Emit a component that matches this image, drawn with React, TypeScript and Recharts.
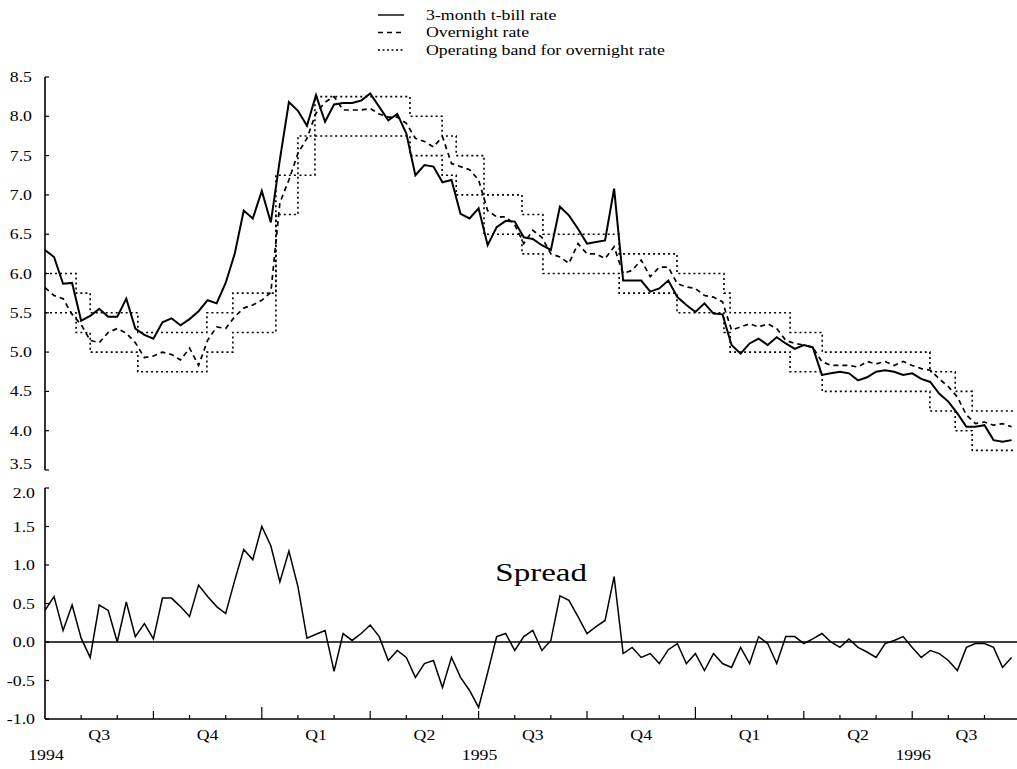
import React from 'react';
import { LineChart, Line, XAxis, YAxis, ReferenceLine, ReferenceDot, Legend } from 'recharts';

// Weekly observations; x = months since 1 July 1994
const STEP_MONTHS = 0.25;

const tbill = [
  6.30, 6.21, 5.87, 5.88, 5.40, 5.46, 5.55, 5.45, 5.45, 5.68,
  5.30, 5.22, 5.17, 5.38, 5.43, 5.34, 5.42, 5.52, 5.66, 5.62,
  5.88, 6.25, 6.80, 6.70, 7.05, 6.65, 7.45, 8.18, 8.07, 7.88,
  8.27, 7.93, 8.15, 8.17, 8.17, 8.20, 8.29, 8.12, 7.95, 8.03,
  7.78, 7.25, 7.38, 7.36, 7.16, 7.19, 6.76, 6.70, 6.83, 6.36,
  6.59, 6.67, 6.66, 6.46, 6.44, 6.36, 6.30, 6.85, 6.74, 6.57,
  6.38, 6.40, 6.42, 7.08, 5.91, 5.91, 5.91, 5.77, 5.81, 5.91,
  5.70, 5.60, 5.51, 5.62, 5.49, 5.48, 5.09, 4.98, 5.11, 5.17,
  5.09, 5.19, 5.11, 5.04, 5.09, 5.06, 4.71, 4.73, 4.75, 4.73,
  4.64, 4.68, 4.75, 4.77, 4.75, 4.71, 4.73, 4.66, 4.62, 4.47,
  4.37, 4.22, 4.05, 4.05, 4.07, 3.88, 3.86, 3.88,
];

const overnight = [
  5.82, 5.72, 5.68, 5.48, 5.35, 5.15, 5.12, 5.25, 5.30, 5.24,
  5.12, 4.93, 4.95, 5.00, 4.97, 4.90, 5.05, 4.83, 5.15, 5.32,
  5.30, 5.45, 5.56, 5.60, 5.66, 5.76, 6.90, 7.19, 7.53, 7.72,
  8.04, 8.18, 8.25, 8.08, 8.08, 8.08, 8.10, 8.03, 7.99, 7.99,
  7.91, 7.72, 7.68, 7.61, 7.74, 7.40, 7.36, 7.32, 7.19, 6.80,
  6.72, 6.72, 6.62, 6.38, 6.55, 6.46, 6.25, 6.21, 6.13, 6.38,
  6.25, 6.25, 6.19, 6.34, 6.00, 6.04, 6.17, 5.96, 6.08, 6.08,
  5.87, 5.83, 5.81, 5.72, 5.70, 5.64, 5.28, 5.32, 5.36, 5.32,
  5.36, 5.30, 5.15, 5.11, 5.09, 5.06, 4.88, 4.83, 4.83, 4.83,
  4.81, 4.88, 4.85, 4.88, 4.83, 4.88, 4.83, 4.79, 4.77, 4.66,
  4.56, 4.43, 4.20, 4.09, 4.11, 4.07, 4.09, 4.05,
];

const spread = [
  0.41, 0.59, 0.15, 0.48, 0.05, -0.20, 0.48, 0.41, 0.00, 0.52,
  0.07, 0.24, 0.04, 0.57, 0.57, 0.46, 0.33, 0.74, 0.59, 0.46,
  0.37, 0.80, 1.20, 1.07, 1.50, 1.25, 0.78, 1.18, 0.72, 0.05,
  0.10, 0.15, -0.38, 0.11, 0.02, 0.11, 0.22, 0.07, -0.24, -0.11,
  -0.20, -0.46, -0.28, -0.24, -0.59, -0.20, -0.46, -0.63, -0.85, -0.40,
  0.07, 0.11, -0.11, 0.07, 0.15, -0.11, 0.02, 0.60, 0.54, 0.33,
  0.11, 0.20, 0.28, 0.85, -0.15, -0.07, -0.20, -0.15, -0.28, -0.10,
  -0.02, -0.28, -0.15, -0.37, -0.15, -0.28, -0.33, -0.07, -0.28, 0.07,
  -0.02, -0.28, 0.07, 0.07, -0.02, 0.04, 0.11, 0.00, -0.07, 0.04,
  -0.07, -0.13, -0.20, -0.02, 0.02, 0.07, -0.07, -0.20, -0.11, -0.15,
  -0.24, -0.37, -0.07, -0.02, -0.02, -0.07, -0.33, -0.20,
];

// Operating band: months at which the band changes
const bandMonths = [
  0, 0.86, 1.25, 2.57, 4.48, 5.2, 6.39, 7.0, 7.47, 10.1, 10.99, 11.38,
  12.15, 13.2, 13.78, 15.89, 17.49, 18.79, 18.96, 20.62, 21.51, 24.49,
  25.19, 25.66, 26.85,
];
const bandLower = [
  5.5, 5.25, 5.0, 4.75, 5.0, 5.25, 6.75, 7.25, 7.75, 7.5, 7.25, 7.0,
  6.5, 6.25, 6.0, 5.75, 5.5, 5.25, 5.0, 4.75, 4.5, 4.25, 4.0, 3.75, 3.75,
];
const bandUpper = [
  6.0, 5.75, 5.5, 5.25, 5.5, 5.75, 7.25, 7.75, 8.25, 8.0, 7.75, 7.5,
  7.0, 6.75, 6.5, 6.25, 6.0, 5.75, 5.5, 5.25, 5.0, 4.75, 4.5, 4.25, 4.25,
];

const quarterLabels = ['Q3', 'Q4', 'Q1', 'Q2', 'Q3', 'Q4', 'Q1', 'Q2', 'Q3'];
const yearLabels = ['1994', '1995', '1996'];
const rateTicks = [3.5, 4.0, 4.5, 5.0, 5.5, 6.0, 6.5, 7.0, 7.5, 8.0, 8.5];
const spreadTicks = [-1.0, -0.5, 0.0, 0.5, 1.0, 1.5, 2.0];
const seriesNames = ['3-month t-bill rate', 'Overnight rate', 'Operating band for overnight rate'];
const monthTicks = Array.from({ length: 27 }, (_, k) => k);
const quarterMidTicks = quarterLabels.map((_, k) => k * 3 + 1.5);

const X_DOMAIN: [number, number] = [0, 26.9];
const FONT = '"Liberation Serif", "DejaVu Serif", serif';
const SX = 1.27;

const obsRows = tbill.map((v, i) => ({ m: i * STEP_MONTHS, tbill: v, overnight: overnight[i] }));
const bandRows = bandMonths.map((m, i) => ({ m, lower: bandLower[i], upper: bandUpper[i] }));
const topData = [...obsRows, ...bandRows].sort((a, b) => a.m - b.m);
const spreadData = spread.map((v, i) => ({ m: i * STEP_MONTHS, spread: v }));
const xTicks = [...monthTicks, ...quarterMidTicks].sort((a, b) => a - b);

const STxt = ({ x, y, anchor, size, children }: any) => (
  <text
    transform={`translate(${x},${y}) scale(${SX},1)`}
    textAnchor={anchor}
    fontSize={size}
    fontFamily={FONT}
    fill="#000"
  >
    {children}
  </text>
);

const makeYTick = (gap: number) => (props: any) => {
  const { x, y, payload } = props;
  const v = payload.value as number;
  let dy = 5;
  if (v === 3.5) dy = -1;
  if (v === 2) dy = 10;
  return (
    <g>
      <line x1={x} x2={x + 4} y1={y} y2={y} stroke="#000" strokeWidth={1.2} />
      <STxt x={x - gap} y={y + dy} anchor="end" size={14}>
        {v.toFixed(1)}
      </STxt>
    </g>
  );
};

const XTick = (props: any) => {
  const { x, y, payload } = props;
  const v = payload.value as number;
  if (Number.isInteger(v)) {
    const h = v % 12 === 6 ? 12 : v % 3 === 0 ? 8 : 4;
    const yi = v % 12 === 0 ? v / 12 : -1;
    return (
      <g>
        {v > 0 && <line x1={x} x2={x} y1={y} y2={y - h} stroke="#000" strokeWidth={1.2} />}
        {yi >= 0 && yi < yearLabels.length && (
          <STxt x={x + 1} y={y + 41} anchor="middle" size={14}>
            {yearLabels[yi]}
          </STxt>
        )}
      </g>
    );
  }
  const qi = Math.floor(v / 3);
  return (
    <STxt x={x} y={y + 21} anchor="middle" size={14}>
      {quarterLabels[qi]}
    </STxt>
  );
};

const renderLegend = () => (
  <svg width={340} height={58}>
    {seriesNames.map((name, k) => {
      const cy = 11 + k * 17.5;
      return (
        <g key={name}>
          <line
            x1={6}
            x2={32}
            y1={cy}
            y2={cy}
            stroke="#000"
            strokeWidth={1.4}
            strokeDasharray={k === 0 ? undefined : k === 1 ? '5 4' : '2 2.5'}
          />
          <STxt x={54} y={cy + 4.5} anchor="start" size={14}>
            {name}
          </STxt>
        </g>
      );
    })}
  </svg>
);

const SpreadLabel = (props: any) => {
  const vb = props.viewBox || {};
  const cx = (vb.x || 0) + (vb.width || 0) / 2;
  const cy = (vb.y || 0) + (vb.height || 0) / 2;
  return (
    <STxt x={cx} y={cy} anchor="middle" size={26}>
      Spread
    </STxt>
  );
};

export default function App() {
  return (
    <div
      style={{
        position: 'absolute',
        left: 0,
        top: 0,
        width: 1017,
        height: 769,
        background: '#fff',
        fontFamily: FONT,
      }}
    >
      <div style={{ position: 'absolute', left: 0, top: 0 }}>
        <LineChart width={1017} height={480} data={topData} margin={{ top: 77, right: 0, bottom: 10, left: 0 }}>
          <XAxis type="number" dataKey="m" domain={X_DOMAIN} allowDataOverflow hide />
          <YAxis
            type="number"
            domain={[3.5, 8.5]}
            ticks={rateTicks}
            interval={0}
            width={45}
            tickSize={0}
            tickMargin={0}
            tickLine={false}
            axisLine={{ stroke: '#000', strokeWidth: 1.6 }}
            tick={makeYTick(13)}
            allowDataOverflow
          />
          <Legend
            verticalAlign="middle"
            layout="horizontal"
            align="center"
            content={renderLegend}
            wrapperStyle={{ left: 372, top: 4, width: 340, height: 58 }}
          />
          <Line
            dataKey="upper"
            type="stepAfter"
            stroke="#000"
            strokeWidth={1.6}
            strokeDasharray="2 3"
            dot={false}
            connectNulls
            isAnimationActive={false}
          />
          <Line
            dataKey="lower"
            type="stepAfter"
            stroke="#000"
            strokeWidth={1.6}
            strokeDasharray="2 3"
            dot={false}
            connectNulls
            isAnimationActive={false}
          />
          <Line
            dataKey="overnight"
            type="linear"
            stroke="#000"
            strokeWidth={1.7}
            strokeDasharray="5 4"
            dot={false}
            connectNulls
            isAnimationActive={false}
          />
          <Line
            dataKey="tbill"
            type="linear"
            stroke="#000"
            strokeWidth={2}
            dot={false}
            connectNulls
            isAnimationActive={false}
          />
        </LineChart>
      </div>
      <div style={{ position: 'absolute', left: 0, top: 480 }}>
        <LineChart width={1017} height={289} data={spreadData} margin={{ top: 8, right: 0, bottom: 0, left: 0 }}>
          <XAxis
            type="number"
            dataKey="m"
            domain={X_DOMAIN}
            allowDataOverflow
            ticks={xTicks}
            interval={0}
            height={50}
            tickSize={0}
            tickMargin={0}
            tickLine={false}
            axisLine={{ stroke: '#000', strokeWidth: 1.6 }}
            tick={XTick}
          />
          <YAxis
            type="number"
            domain={[-1, 2]}
            ticks={spreadTicks}
            interval={0}
            width={45}
            tickSize={0}
            tickMargin={0}
            tickLine={false}
            axisLine={{ stroke: '#000', strokeWidth: 1.6 }}
            tick={makeYTick(10)}
            allowDataOverflow
          />
          <ReferenceLine y={0} stroke="#000" strokeWidth={1.4} />
          <ReferenceDot x={13.73} y={0.79} r={0} fill="none" stroke="none" label={<SpreadLabel />} />
          <Line
            dataKey="spread"
            type="linear"
            stroke="#000"
            strokeWidth={1.5}
            dot={false}
            isAnimationActive={false}
          />
        </LineChart>
      </div>
    </div>
  );
}
